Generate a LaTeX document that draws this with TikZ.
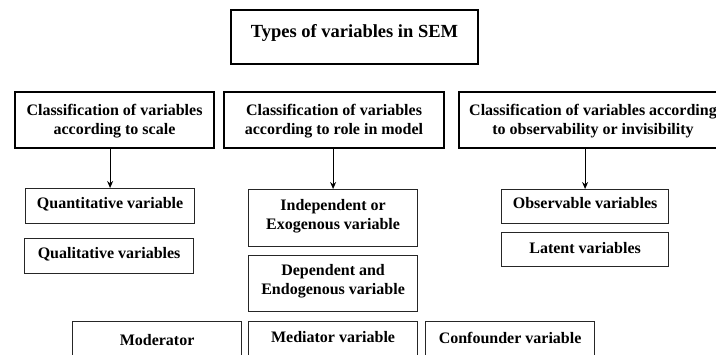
\documentclass[tikz,border=0pt]{standalone}
\usepackage{fontspec}
\setmainfont{Liberation Serif}
\usetikzlibrary{arrows.meta}
\begin{document}
\begin{tikzpicture}[x=1pt,y=-1pt,
  base/.style={draw, inner sep=0pt, align=center, anchor=north west,
    font=\fontsize{16}{19}\selectfont\bfseries},
  topbox/.style={base, line width=2pt},
  subbox/.style={base, draw=black!85, line width=1.2pt},
  th/.style 2 args={text height=#1pt, text depth=#2pt},
  arr/.style={-{Stealth[length=7pt,width=6pt]}, line width=1pt}]
\clip (0,0) rectangle (716,354);
\fill[white] (0,0) rectangle (716,354);
% title
\node[topbox, minimum width=247pt, minimum height=54pt, th={13}{13},
  font=\fontsize{18.5}{22}\selectfont\bfseries] (t) at (230,9) {Types of variables in SEM};
% classification row
\node[topbox, minimum width=199pt, minimum height=56pt, th={30}{2}] (r1) at (14,91)
  {Classification of variables\\according to scale};
\node[topbox, minimum width=220pt, minimum height=56pt, th={30}{2}] (r2) at (223,91)
  {Classification of variables\\according to role in model};
\node[topbox, minimum width=268pt, minimum height=56pt, th={30}{2}] (r3) at (458,91)
  {Classification of variables according\\to observability or invisibility};
% scale
\node[subbox, minimum width=169pt, minimum height=35pt, th={12}{7}] (q1) at (25,188) {Quantitative variable};
\node[subbox, minimum width=169pt, minimum height=35pt, th={12}{7}] (q2) at (24,238) {Qualitative variables};
% role
\node[subbox, minimum width=169pt, minimum height=57pt, th={26}{3}] (i1) at (248,189) {Independent or\\Exogenous variable};
\node[subbox, minimum width=169pt, minimum height=56pt, th={25}{3}] (i2) at (248,255) {Dependent and\\Endogenous variable};
% observability
\node[subbox, minimum width=167pt, minimum height=34pt, th={12}{8}] (o1) at (501,189) {Observable variables};
\node[subbox, minimum width=167pt, minimum height=34pt, th={14}{6}] (o2) at (501,232) {Latent variables};
% bottom row
\node[subbox, minimum width=169pt, minimum height=41pt, th={14}{7}] (m1) at (72,321) {Moderator};
\node[subbox, minimum width=169pt, minimum height=41pt, th={11}{10}] (m2) at (248,321) {Mediator variable};
\node[subbox, minimum width=169pt, minimum height=41pt, th={12}{9}] (m3) at (425,321) {Confounder variable};
% arrows
\draw[arr] (r1.south -| q1.north) -- (q1.north);
\draw[arr] (r2.south -| i1.north) -- (i1.north);
\draw[arr] (r3.south -| o1.north) -- (o1.north);
\end{tikzpicture}
\end{document}
